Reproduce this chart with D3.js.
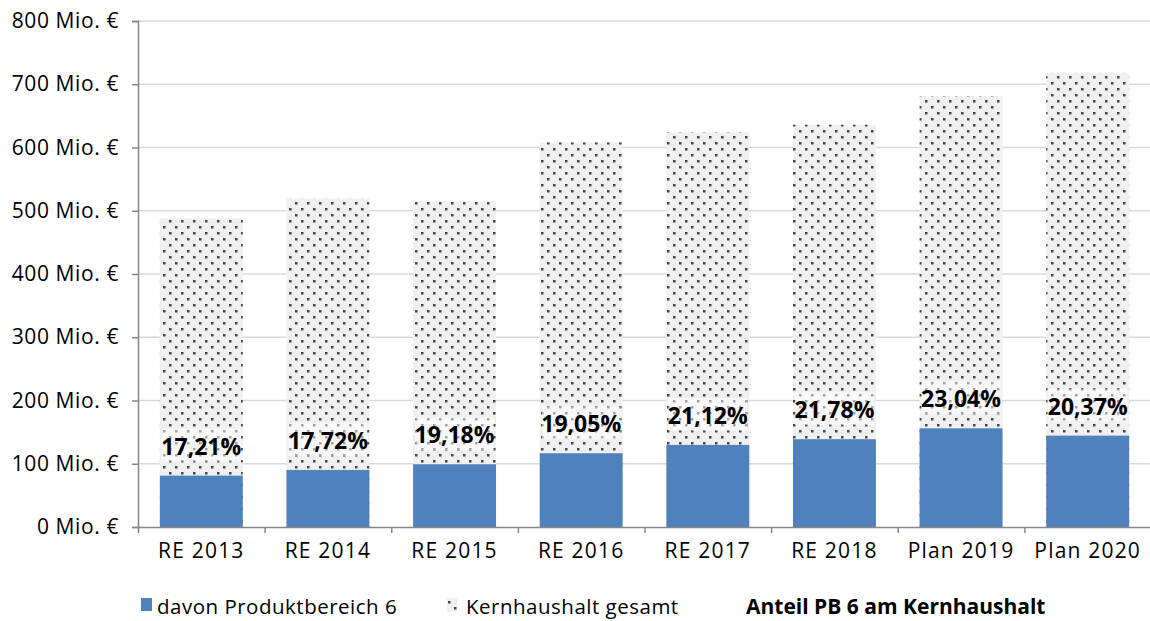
<!DOCTYPE html>
<html>
<head>
<meta charset="utf-8">
<script src="https://cdn.jsdelivr.net/npm/d3@7"></script>
<style>
  body { margin: 0; background: #fff; }
  text { font-family: "Open Sans", Lato, sans-serif; fill: #000; }
</style>
</head>
<body>
<div id="viz"></div>
<script>
// data
const CATEGORIES = ["RE 2013", "RE 2014", "RE 2015", "RE 2016", "RE 2017", "RE 2018", "Plan 2019", "Plan 2020"];
const PB6 = [81.2, 90.2, 99.2, 116.6, 129.8, 138.8, 156, 144.5];
const TOTAL = [488, 519, 515, 608, 624, 636, 681, 718];
const SHARE = ["17,21%", "17,72%", "19,18%", "19,05%", "21,12%", "21,78%", "23,04%", "20,37%"];
const Y_TICKS = [0, 100, 200, 300, 400, 500, 600, 700, 800];

const F_WIDTH = 1150;
const F_HEIGHT = 621;
const MARGINS = {left: 138, right: -1, top: 21, bottom: 94};

const VIS_WIDTH = F_WIDTH - MARGINS.left - MARGINS.right;
const VIS_HEIGHT = F_HEIGHT - MARGINS.top - MARGINS.bottom;

const FRAME = d3.select("#viz")
  .append("svg")
    .attr("width", F_WIDTH)
    .attr("height", F_HEIGHT);

// dotted pattern for Kernhaushalt (one for the bars, one shifted for the legend key)
const defs = FRAME.append("defs");
function dotPattern(id, dx, dy) {
  const pat = defs.append("pattern")
      .attr("id", id)
      .attr("patternUnits", "userSpaceOnUse")
      .attr("x", dx)
      .attr("y", dy)
      .attr("width", 12)
      .attr("height", 12);
  pat.append("rect").attr("width", 12).attr("height", 12).attr("fill", "#f0f0f0");
  pat.append("rect").attr("x", 1).attr("y", 1).attr("width", 2.5).attr("height", 2.5).attr("fill", "#454545");
  pat.append("rect").attr("x", 7).attr("y", 7).attr("width", 2.5).attr("height", 2.5).attr("fill", "#454545");
}
dotPattern("dots", 0, 0);
dotPattern("dotsKey", 3, -2);

const X_SCALE = d3.scaleBand()
    .domain(CATEGORIES)
    .range([0, VIS_WIDTH])
    .paddingInner(0.345)
    .paddingOuter(0.1725);

const Y_SCALE = d3.scaleLinear()
    .domain([0, 800])
    .range([VIS_HEIGHT, 0]);

const G = FRAME.append("g")
    .attr("transform", "translate(" + MARGINS.left + "," + MARGINS.top + ")");

// gridlines
G.selectAll(".grid")
  .data(Y_TICKS.slice(1))
  .enter()
  .append("line")
    .attr("x1", 0)
    .attr("x2", VIS_WIDTH)
    .attr("y1", (d) => Y_SCALE(d))
    .attr("y2", (d) => Y_SCALE(d))
    .attr("stroke", "#d9d9d9")
    .attr("stroke-width", 1.5);

// total bars
G.selectAll(".total")
  .data(TOTAL)
  .enter()
  .append("rect")
    .attr("x", (d, i) => X_SCALE(CATEGORIES[i]))
    .attr("y", (d) => Y_SCALE(d))
    .attr("width", X_SCALE.bandwidth())
    .attr("height", (d) => VIS_HEIGHT - Y_SCALE(d))
    .attr("fill", "url(#dots)");

// PB 6 bars
G.selectAll(".pb6")
  .data(PB6)
  .enter()
  .append("rect")
    .attr("x", (d, i) => X_SCALE(CATEGORIES[i]))
    .attr("y", (d) => Y_SCALE(d))
    .attr("width", X_SCALE.bandwidth())
    .attr("height", (d) => VIS_HEIGHT - Y_SCALE(d))
    .attr("fill", "#4f81bd");

// share labels
const labels = G.selectAll(".share")
  .data(SHARE)
  .enter()
  .append("g");

labels.append("rect")
    .attr("x", (d, i) => X_SCALE(CATEGORIES[i]) + 2)
    .attr("y", (d, i) => Y_SCALE(PB6[i]) - 47)
    .attr("width", X_SCALE.bandwidth() - 4)
    .attr("height", 33)
    .attr("fill", "#fff")
    .attr("fill-opacity", 0.5);

labels.append("text")
    .attr("x", (d, i) => X_SCALE(CATEGORIES[i]) + X_SCALE.bandwidth() / 2)
    .attr("y", (d, i) => Y_SCALE(PB6[i]) - 21)
    .attr("text-anchor", "middle")
    .style("font-size", "23px")
    .style("font-weight", "bold")
    .text((d) => d);

// y axis
const yAxis = G.append("g")
    .call(d3.axisLeft(Y_SCALE).tickValues(Y_TICKS).tickSize(6).tickPadding(13)
      .tickFormat((d) => d + " Mio. €"));
yAxis.select(".domain").attr("stroke", "#868686").attr("stroke-width", 1.5);
yAxis.selectAll(".tick line").attr("stroke", "#868686").attr("stroke-width", 1.5);
yAxis.selectAll(".tick text").style("font-size", "21px").style("letter-spacing", "0.6px");

// x axis labels
const xAxis = G.append("g")
    .attr("transform", "translate(0," + VIS_HEIGHT + ")")
    .call(d3.axisBottom(X_SCALE).tickSize(0).tickPadding(16));
xAxis.select(".domain").remove();
xAxis.selectAll(".tick text").style("font-size", "21px").style("letter-spacing", "1.2px");

// x axis line with boundary ticks
const X_EDGES = d3.scaleLinear().domain([0, CATEGORIES.length]).range([0, VIS_WIDTH]);
const xTicks = G.append("g")
    .attr("transform", "translate(0," + VIS_HEIGHT + ")")
    .call(d3.axisBottom(X_EDGES).ticks(CATEGORIES.length).tickSize(6).tickSizeOuter(0).tickFormat(""));
xTicks.select(".domain").attr("stroke", "#868686").attr("stroke-width", 1.5);
xTicks.selectAll(".tick line").attr("stroke", "#868686").attr("stroke-width", 1.5);

// legend
const LEGEND = FRAME.append("g").attr("transform", "translate(0,614)");
LEGEND.append("rect").attr("x", 141).attr("y", -16).attr("width", 11).attr("height", 13).attr("fill", "#4f81bd");
LEGEND.append("text").attr("x", 157).attr("y", 0).style("font-size", "20.5px").style("letter-spacing", "0.5px")
    .text("davon Produktbereich 6");
LEGEND.append("rect").attr("x", 447).attr("y", -16).attr("width", 10).attr("height", 14).attr("fill", "url(#dotsKey)");
LEGEND.append("text").attr("x", 466).attr("y", 0).style("font-size", "20.5px").style("letter-spacing", "0.5px")
    .text("Kernhaushalt gesamt");
LEGEND.append("text").attr("x", 746).attr("y", 0).style("font-size", "21px").style("font-weight", "bold")
    .text("Anteil PB 6 am Kernhaushalt");
</script>
</body>
</html>
